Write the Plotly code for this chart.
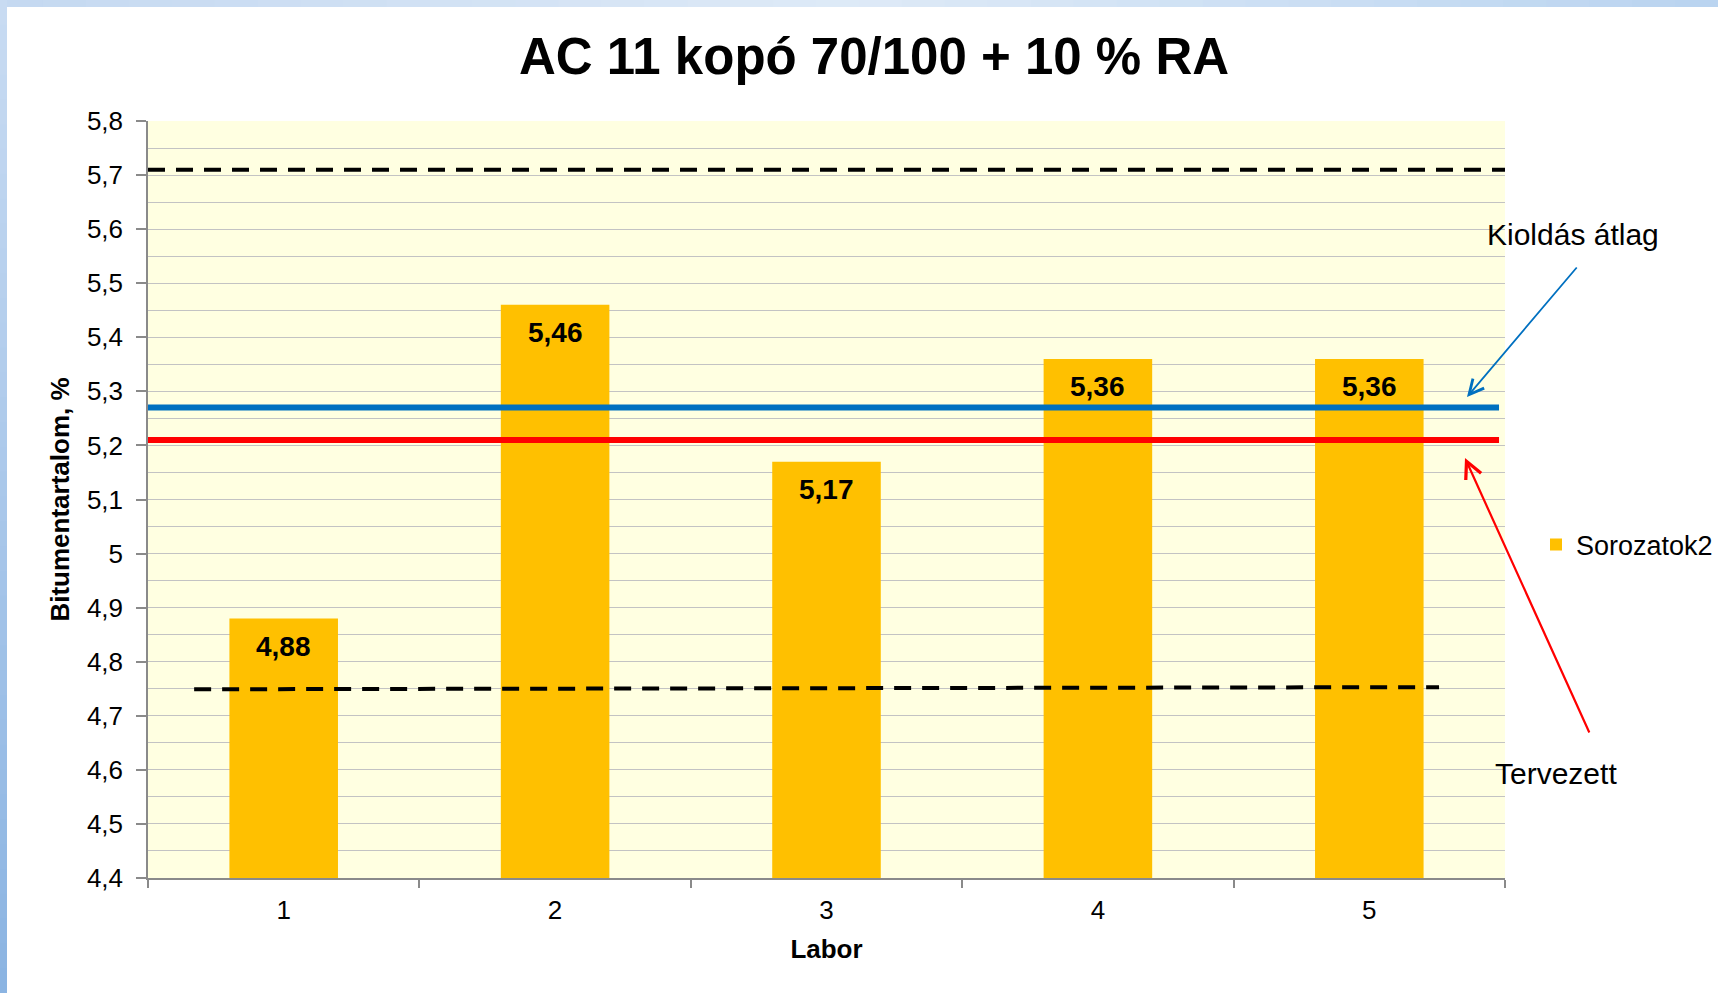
import plotly.graph_objects as go

# ---------------- data ----------------
labs = [1, 2, 3, 4, 5]
lab_labels = ["1", "2", "3", "4", "5"]
bitumen = [4.88, 5.46, 5.17, 5.36, 5.36]
series_name = "Sorozatok2"

kioldas_atlag = 5.27      # blue line
tervezett = 5.21          # red line
upper_limit = 5.71        # upper dashed line
lower_limit = [4.749, 4.753]  # lower dashed line (slightly tilted in the original)

y_ticks = [4.4, 4.5, 4.6, 4.7, 4.8, 4.9, 5.0, 5.1, 5.2, 5.3, 5.4, 5.5, 5.6, 5.7, 5.8]
y_tick_labels = ["4,4", "4,5", "4,6", "4,7", "4,8", "4,9", "5", "5,1", "5,2",
                 "5,3", "5,4", "5,5", "5,6", "5,7", "5,8"]
x_boundaries = [0.5, 1.5, 2.5, 3.5, 4.5, 5.5]

# line extents along the category axis
mean_x = [0.5, 5.478]
upper_x = [0.5, 5.52]
lower_x = [0.67, 5.257]

# ---------------- layout geometry ----------------
W, H = 1718, 993
ML, MR, MT, MB = 148, 213, 121, 115
PW, PH = W - ML - MR, H - MT - MB


def px(x):
    return (x - ML) / PW


def py(y):
    return 1 - (y - MT) / PH


FONT = "Liberation Sans, Arial, sans-serif"
GRID = "#c3c3c3"
AXIS = "#8a8a8a"

fig = go.Figure()

fig.add_trace(go.Bar(
    x=labs, y=bitumen, name=series_name, width=0.4,
    marker=dict(color="#FFC000", line=dict(width=0)),
    showlegend=True,
))

fig.add_trace(go.Scatter(x=upper_x, y=[upper_limit] * 2, mode="lines",
                         line=dict(color="black", width=4, dash="17px,11px"),
                         showlegend=False, hoverinfo="skip"))
fig.add_trace(go.Scatter(x=lower_x, y=lower_limit, mode="lines",
                         line=dict(color="black", width=4, dash="17px,11px"),
                         showlegend=False, hoverinfo="skip"))
fig.add_trace(go.Scatter(x=mean_x, y=[kioldas_atlag] * 2, mode="lines",
                         line=dict(color="#0070C0", width=6),
                         showlegend=False, hoverinfo="skip"))
fig.add_trace(go.Scatter(x=mean_x, y=[tervezett] * 2, mode="lines",
                         line=dict(color="#FF0000", width=6),
                         showlegend=False, hoverinfo="skip"))

annotations = []
for xv, v in zip(labs, bitumen):
    annotations.append(dict(
        x=xv, y=v, xref="x", yref="y", text=f"{v:.2f}".replace(".", ","),
        showarrow=False, yanchor="middle", yshift=-28,
        font=dict(family=FONT, size=28, color="black", weight="bold"),
    ))

# Kioldás átlag label + arrow
annotations.append(dict(x=px(1573), y=py(234), xref="paper", yref="paper",
                        xanchor="center", yanchor="middle",
                        text="Kioldás átlag", showarrow=False,
                        font=dict(family=FONT, size=30, color="black")))
annotations.append(dict(x=px(1467), y=py(397), xref="paper", yref="paper",
                        text="", showarrow=True, ax=1578 - 1467, ay=266 - 397,
                        arrowhead=5, arrowsize=1.6, arrowwidth=1.8,
                        arrowcolor="#0070C0", standoff=0, startstandoff=0))
# Tervezett label + arrow
annotations.append(dict(x=px(1556), y=py(773), xref="paper", yref="paper",
                        xanchor="center", yanchor="middle",
                        text="Tervezett", showarrow=False,
                        font=dict(family=FONT, size=30, color="black")))
annotations.append(dict(x=px(1465), y=py(458), xref="paper", yref="paper",
                        text="", showarrow=True, ax=1590 - 1465, ay=734 - 458,
                        arrowhead=5, arrowsize=1.5, arrowwidth=2.2,
                        arrowcolor="#FF0000", standoff=0, startstandoff=0))

# decorative slide border gradients (top and left strips)
shapes = []


def lerp(c1, c2, t):
    return "rgb({},{},{})".format(*[round(a + (b - a) * t) for a, b in zip(c1, c2)])


n = 40
top_l, top_m, top_r = (197, 217, 241), (222, 234, 247), (186, 212, 240)
for i in range(n):
    t = i / (n - 1)
    col = lerp(top_l, top_m, t * 2) if t < 0.5 else lerp(top_m, top_r, (t - 0.5) * 2)
    shapes.append(dict(type="rect", xref="paper", yref="paper",
                       x0=px(W * i / n), x1=px(W * (i + 1) / n + 1),
                       y0=py(7), y1=py(0), line=dict(width=0), fillcolor=col,
                       layer="below"))
left_t, left_b = (200, 219, 242), (139, 180, 226)
for i in range(n):
    t = i / (n - 1)
    shapes.append(dict(type="rect", xref="paper", yref="paper",
                       x0=px(0), x1=px(7),
                       y0=py(H * (i + 1) / n + 1), y1=py(H * i / n),
                       line=dict(width=0), fillcolor=lerp(left_t, left_b, t),
                       layer="below"))

fig.update_layout(
    width=W, height=H,
    margin=dict(l=ML, r=MR, t=MT, b=MB, pad=0, autoexpand=False),
    paper_bgcolor="white",
    plot_bgcolor="#FFFFE1",
    font=dict(family=FONT, size=26, color="black"),
    title=dict(text="AC 11 kopó 70/100 + 10 % RA", xref="container", yref="container",
               x=874 / W, xanchor="center", y=1 - 56 / H, yanchor="middle",
               font=dict(family=FONT, size=51, color="black", weight="bold")),
    bargap=0.6,
    legend=dict(x=px(1536), y=py(545), xanchor="left", yanchor="middle",
                font=dict(family=FONT, size=27, color="black"),
                bgcolor="rgba(0,0,0,0)", itemclick=False),
    annotations=annotations,
    shapes=shapes,
    xaxis=dict(
        range=[0.5, 5.5], tickmode="array", tickvals=labs, ticktext=lab_labels,
        ticks="outside", ticklen=8, tickcolor="rgba(0,0,0,0)",
        showgrid=False, zeroline=False,
        showline=True, linecolor=AXIS, linewidth=1.5,
        tickfont=dict(family=FONT, size=26),
        minor=dict(tickmode="array", tickvals=x_boundaries, ticks="outside",
                   ticklen=8, tickcolor=AXIS, tickwidth=1.5, showgrid=False),
        title=dict(text="Labor", standoff=16,
                   font=dict(family=FONT, size=26, weight="bold")),
    ),
    yaxis=dict(
        range=[4.4, 5.8], tickmode="array", tickvals=y_ticks, ticktext=y_tick_labels,
        ticks="outside", ticklen=10, tickcolor=AXIS, tickwidth=1.5,
        ticklabelstandoff=8,
        showgrid=True, gridcolor=GRID, gridwidth=1, zeroline=False,
        showline=True, linecolor=AXIS, linewidth=1.5,
        tickfont=dict(family=FONT, size=26),
        minor=dict(dtick=0.05, tick0=4.4, showgrid=True, gridcolor=GRID,
                   gridwidth=1, ticks=""),
        title=dict(text="Bitumentartalom, %", standoff=10,
                   font=dict(family=FONT, size=26, weight="bold")),
    ),
)

fig.write_html("out.html", config={"displayModeBar": False},
               post_script="document.body.style.margin='0';")
